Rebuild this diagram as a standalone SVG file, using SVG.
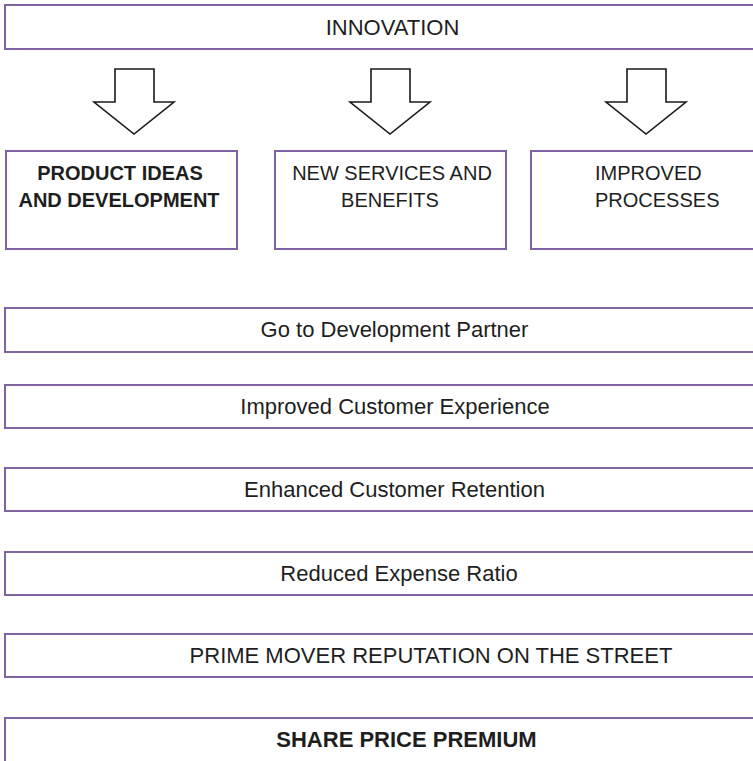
<svg xmlns="http://www.w3.org/2000/svg" width="753" height="761" viewBox="0 0 753 761">
<style>
.box{fill:#fff;stroke:#8064a2;stroke-width:2}
.arrow{fill:#fff;stroke:#1a1a1a;stroke-width:1.6;stroke-linejoin:miter}
.t{font-family:"Liberation Sans",Arial,sans-serif;fill:#1e1e1e}
.big{font-size:22px;text-anchor:middle}
.small{font-size:20px;text-anchor:middle}
.b{font-weight:bold}
</style>
<rect width="753" height="761" fill="#fff"/>
<g id="innovation">
<rect class="box" x="5" y="5" width="760" height="44"/>
<text class="t big" x="392.5" y="35">INNOVATION</text>
</g>
<g id="connectors">
<polygon class="arrow" points="115,69 154,69 154,102 174,102 134,134 94,102 115,102"/>
<polygon class="arrow" points="371,69 410,69 410,102 430,102 390,134 350,102 371,102"/>
<polygon class="arrow" points="627,69 666,69 666,102 686,102 646,134 606,102 627,102"/>
</g>
<g id="product-ideas">
<rect class="box" x="6" y="151" width="231" height="98"/>
<text class="t small b" x="120" y="180">PRODUCT IDEAS</text>
<text class="t small b" x="119" y="207">AND DEVELOPMENT</text>
</g>
<g id="new-services">
<rect class="box" x="275" y="151" width="231" height="98"/>
<text class="t small" x="392" y="180">NEW SERVICES AND</text>
<text class="t small" x="390" y="207">BENEFITS</text>
</g>
<g id="improved-processes">
<rect class="box" x="531" y="151" width="240" height="98"/>
<text class="t" font-size="20" x="595" y="180">IMPROVED</text>
<text class="t" font-size="20" x="595" y="207">PROCESSES</text>
</g>
<g id="go-to-development-partner">
<rect class="box" x="5" y="308" width="770" height="44"/>
<text class="t big" x="394.5" y="337">Go to Development Partner</text>
</g>
<g id="improved-customer-experience">
<rect class="box" x="5" y="385" width="770" height="43"/>
<text class="t big" x="395" y="414">Improved Customer Experience</text>
</g>
<g id="enhanced-customer-retention">
<rect class="box" x="5" y="468" width="770" height="43"/>
<text class="t big" x="394.5" y="497">Enhanced Customer Retention</text>
</g>
<g id="reduced-expense-ratio">
<rect class="box" x="5" y="552" width="770" height="43"/>
<text class="t big" x="399" y="581">Reduced Expense Ratio</text>
</g>
<g id="prime-mover-reputation">
<rect class="box" x="5" y="634" width="770" height="43"/>
<text class="t big" x="431" y="663">PRIME MOVER REPUTATION ON THE STREET</text>
</g>
<g id="share-price-premium">
<rect class="box" x="5" y="718" width="770" height="50"/>
<text class="t big b" x="406.5" y="747">SHARE PRICE PREMIUM</text>
</g>
</svg>
